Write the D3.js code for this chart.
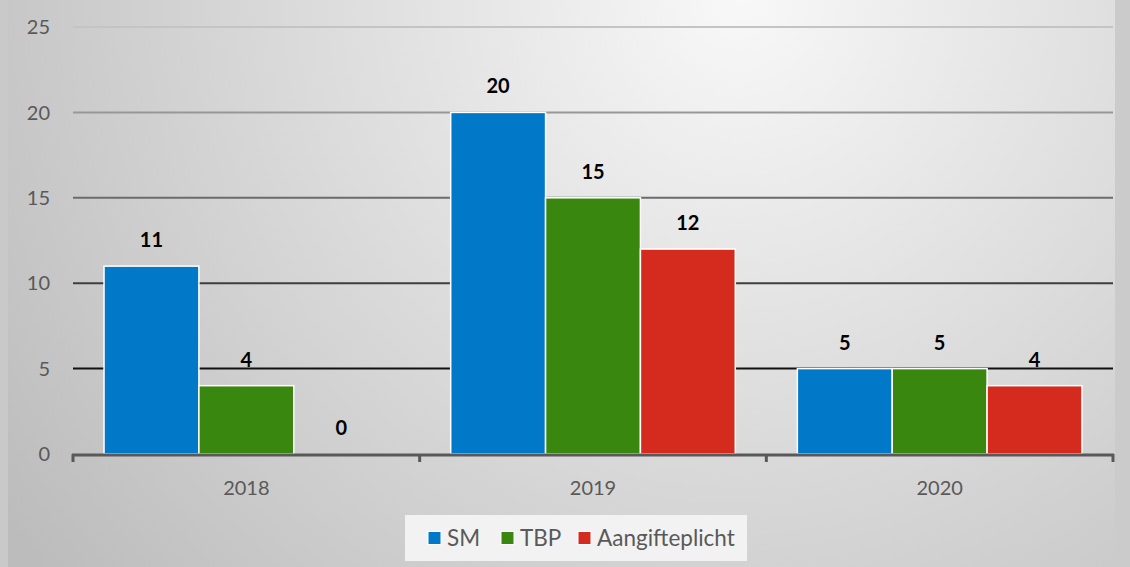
<!DOCTYPE html>
<html><head><meta charset="utf-8">
<script src="https://cdn.jsdelivr.net/npm/d3@7"></script>
<style>html,body{margin:0;padding:0;background:#cccccc;}svg{display:block;}</style>
</head><body>
<svg id="chart" width="1130" height="567"></svg>
<script>
const categories = ["2018", "2019", "2020"];
const seriesNames = ["SM", "TBP", "Aangifteplicht"];
const smValues = [11, 20, 5];
const tbpValues = [4, 15, 5];
const aangifteValues = [0, 12, 4];
const yTicks = [0, 5, 10, 15, 20, 25];
const colors = ["#0179c8", "#3a870f", "#d52b1e"];

(function(){
const series = [smValues, tbpValues, aangifteValues];
const W = 1130, H = 567;
const svg = d3.select("#chart");
const font = "Lato, 'Open Sans', sans-serif";

const defs = svg.append("defs");
const rg = defs.append("radialGradient").attr("id","bg")
  .attr("gradientUnits","userSpaceOnUse")
  .attr("cx",740).attr("cy",0).attr("r",900);
rg.append("stop").attr("offset","0").attr("stop-color","#f8f8f8");
rg.append("stop").attr("offset","1").attr("stop-color","#bcbcbc");

svg.append("rect").attr("x",0).attr("y",0).attr("width",W).attr("height",H).attr("fill","#cbcbcb");
svg.append("rect").attr("x",0).attr("y",0).attr("width",9).attr("height",H).attr("fill","#c9c9c9");
svg.append("rect").attr("x",8).attr("y",0).attr("width",1107).attr("height",H).attr("fill","url(#bg)");

const pl = 73, pr = 1113, pt = 27, pb = 454;
const y = d3.scaleLinear().domain([0,25]).range([pb, pt]);
const x0 = d3.scaleBand().domain(categories).range([pl,pr]).paddingInner(0.179).paddingOuter(0.0895);
const x1 = d3.scaleBand().domain(seriesNames).range([0, x0.bandwidth()]).padding(0);

const gridColor = d3.scaleLinear().domain([5,25]).range(["#111111","#c4c4c4"]);

svg.append("g").selectAll("line").data(yTicks.filter(t=>t>0)).join("line")
  .attr("x1",pl).attr("x2",pr)
  .attr("y1",d=>y(d)).attr("y2",d=>y(d))
  .attr("stroke",d=>gridColor(d)).attr("stroke-width",2);

svg.append("g").selectAll("text").data(yTicks).join("text")
  .attr("x",50).attr("y",d=>y(d)).attr("dy","0.36em")
  .attr("text-anchor","end").attr("font-family",font).attr("font-size",20)
  .attr("fill","#595959").text(d=>d);

const groups = svg.append("g").selectAll("g").data(categories).join("g")
  .attr("transform",d=>`translate(${x0(d)},0)`);
const rows = (c,i)=>series.map((s,j)=>({name:seriesNames[j], v:s[i], j}));
groups.selectAll("rect").data(rows).join("rect")
  .attr("x",d=>x1(d.name)).attr("width",x1.bandwidth())
  .attr("y",d=>y(d.v)).attr("height",d=>y(0)-y(d.v))
  .attr("fill",d=>colors[d.j])
  .attr("stroke",d=>d.v>0?"#ffffff":"none").attr("stroke-width",1.5);
groups.selectAll("text").data(rows).join("text")
  .attr("x",d=>x1(d.name)+x1.bandwidth()/2)
  .attr("y",d=>y(d.v)-19)
  .attr("text-anchor","middle").attr("font-family",font).attr("font-weight","bold")
  .attr("font-size",20).attr("fill","#000").text(d=>d.v);

const xAxis = svg.append("g");
xAxis.append("line").attr("x1",pl-1).attr("x2",pr+1).attr("y1",pb+1).attr("y2",pb+1)
  .attr("stroke","#595959").attr("stroke-width",3);
const tickPos = categories.map(c=>x0(c)-x0.step()*x0.paddingInner()/2).concat([pr]);
tickPos[0] = pl;
xAxis.selectAll("line.tick").data(tickPos).join("line").attr("class","tick")
  .attr("x1",d=>d).attr("x2",d=>d).attr("y1",pb).attr("y2",pb+8)
  .attr("stroke","#595959").attr("stroke-width",3);
xAxis.selectAll("text").data(categories).join("text")
  .attr("x",d=>x0(d)+x0.bandwidth()/2).attr("y",488).attr("dy","0.36em")
  .attr("text-anchor","middle").attr("font-family",font).attr("font-size",20)
  .attr("fill","#595959").text(d=>d);

const lg = svg.append("g");
lg.append("rect").attr("x",405).attr("y",515).attr("width",342).attr("height",46).attr("fill","#f2f2f2");
const legX = [428, 501, 578];
const items = lg.selectAll("g").data(seriesNames).join("g")
  .attr("transform",(d,i)=>`translate(${legX[i]},538)`);
items.append("rect").attr("x",0).attr("y",-6.5).attr("width",13).attr("height",13)
  .attr("fill",(d,i)=>colors[i]).attr("stroke","#fff").attr("stroke-width",1);
items.append("text").attr("x",19).attr("y",0).attr("dy","0.36em")
  .attr("font-family",font).attr("font-size",22.5).attr("fill","#595959").text(d=>d);
})();
</script>
</body></html>
